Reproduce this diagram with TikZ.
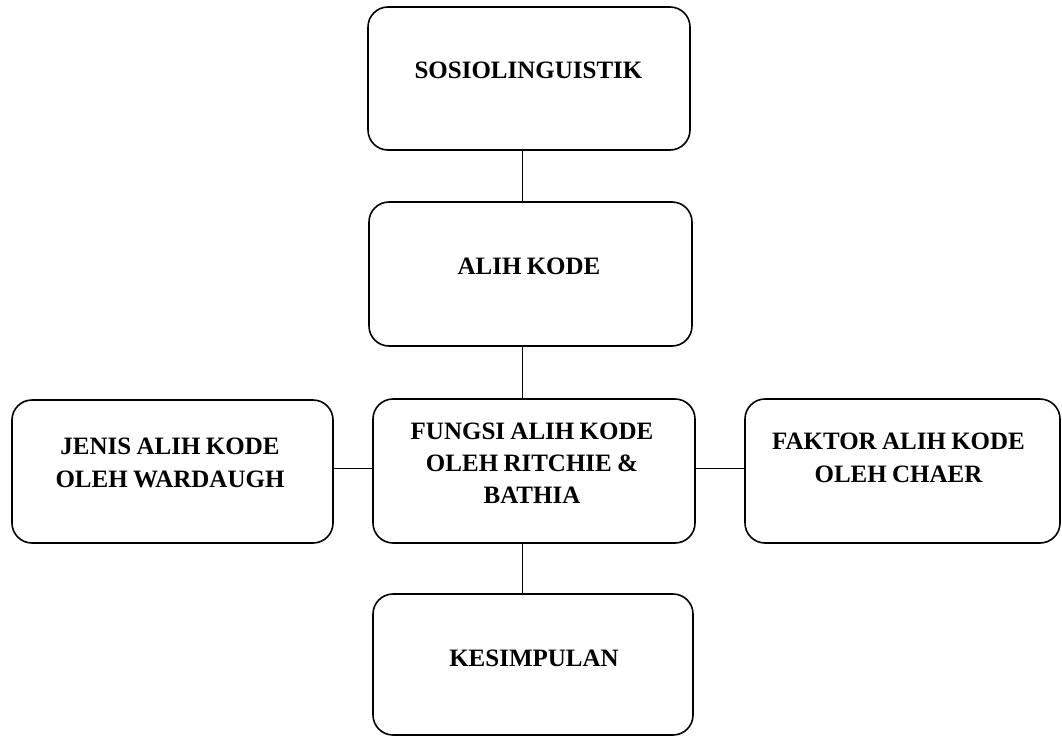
\documentclass[tikz,border=0pt]{standalone}
\usepackage{fontspec}
\setmainfont[WordSpace=0.85]{Liberation Serif}
\begin{document}
\begin{tikzpicture}[x=1pt,y=-1pt,
  box/.style={draw=black,line width=1.6pt,rounded corners=20pt,inner sep=0pt},
  txt/.style={inner sep=0pt,align=center,font=\fontsize{25}{32.3}\selectfont\bfseries},
  conn/.style={draw=black,line width=0.9pt}]
\useasboundingbox (0,0) rectangle (1062,736);
% boxes
\node[box,minimum width=322pt,minimum height=143pt] (A) at (529,78.5) {};
\node[box,minimum width=323pt,minimum height=144pt] (B) at (530.5,274) {};
\node[box,minimum width=322pt,minimum height=144pt] (C) at (534,471) {};
\node[box,minimum width=321pt,minimum height=143pt] (D) at (172.5,471.5) {};
\node[box,minimum width=315pt,minimum height=144pt] (E) at (902.5,471) {};
\node[box,minimum width=320pt,minimum height=141pt] (F) at (533,664.5) {};
% texts
\node[txt,anchor=base] (tA) at (528.5,78) {SOSIOLINGUISTIK};
\node[txt,anchor=base] (tB) at (529,274) {ALIH KODE};
\node[txt,anchor=north] (tC) at (532,422.5) {FUNGSI ALIH KODE\\OLEH RITCHIE \&\\BATHIA};
\node[txt,anchor=north] (tD) at (170,438) {JENIS ALIH KODE\\OLEH WARDAUGH};
\node[txt,anchor=north] (tE) at (898.5,433) {FAKTOR ALIH KODE\\OLEH CHAER};
\node[txt,anchor=base] (tF) at (534,666) {KESIMPULAN};
% connectors
\coordinate (cx) at (522,0);
\coordinate (cy) at (0,468);
\draw[conn] (A.south -| cx) -- (B.north -| cx);
\draw[conn] (B.south -| cx) -- (C.north -| cx);
\draw[conn] (C.south -| cx) -- (F.north -| cx);
\draw[conn] (D.east |- cy) -- (C.west |- cy);
\draw[conn] (C.east |- cy) -- (E.west |- cy);
\end{tikzpicture}
\end{document}
